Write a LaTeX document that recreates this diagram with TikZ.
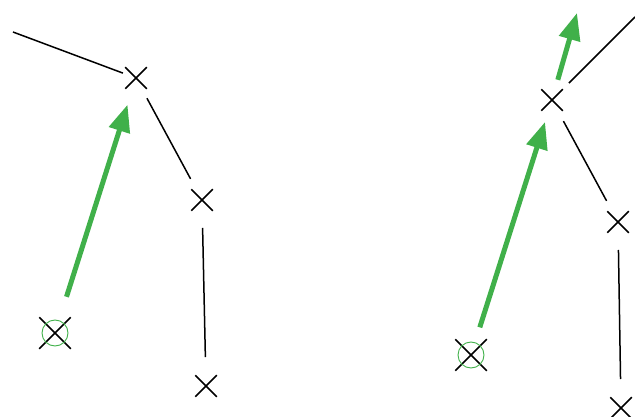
\documentclass[tikz,border=0pt]{standalone}
\usepackage{tikz}
\usetikzlibrary{shapes.misc,arrows.meta}
\definecolor{movegreen}{RGB}{64,176,74}

\begin{document}
\begin{tikzpicture}[x=1pt, y=-1pt,
  xmark/.style={draw, cross out, inner sep=0pt, minimum size=20pt, line width=1.5pt},
  bigmark/.style={xmark, minimum size=30pt},
  link/.style={line width=1.5pt},
  move/.style={line width=5pt, draw=movegreen, -{Triangle[length=27pt, width=21pt, fill=movegreen]}},
  ring/.style={draw=movegreen, line width=0.9pt}]
% Frame
\clip (0,0) rectangle (635,417);

% Left chain
\node[xmark] (a1) at (136,78) {};
\node[xmark] (b1) at (202,200) {};
\node[xmark] (c1) at (206,386) {};
\node[bigmark] (d1) at (55,333) {};
\draw[ring] (d1.center) circle (13pt);
\coordinate (t1) at (13,32);

\draw[link, shorten >=14pt] (t1) -- (a1.center);
\draw[link, shorten <=23pt, shorten >=24pt] (a1.center) -- (b1.center);
\draw[link, shorten <=28pt, shorten >=29pt] (b1.center) -- (c1.center);

% Left move
\draw[move, shorten <=38pt, shorten >=28pt] (d1.center) -- (a1.center);

% Right chain
\node[xmark] (a2) at (552,100) {};
\node[xmark] (b2) at (618,222) {};
\node[xmark] (c2) at (621,408) {};
\node[bigmark] (d2) at (471,355) {};
\draw[ring] (d2.center) circle (13pt);
\coordinate (t2) at (635,17);
\coordinate (g2) at (577,13);

\draw[link, shorten <=24pt] (a2.center) -- (t2);
\draw[link, shorten <=24pt, shorten >=24pt] (a2.center) -- (b2.center);
\draw[link, shorten <=28pt, shorten >=29pt] (b2.center) -- (c2.center);

% Right moves
\draw[move, shorten <=29pt, shorten >=23pt] (d2.center) -- (a2.center);
\draw[move, shorten <=21pt] (a2.center) -- (g2);

\end{tikzpicture}
\end{document}
